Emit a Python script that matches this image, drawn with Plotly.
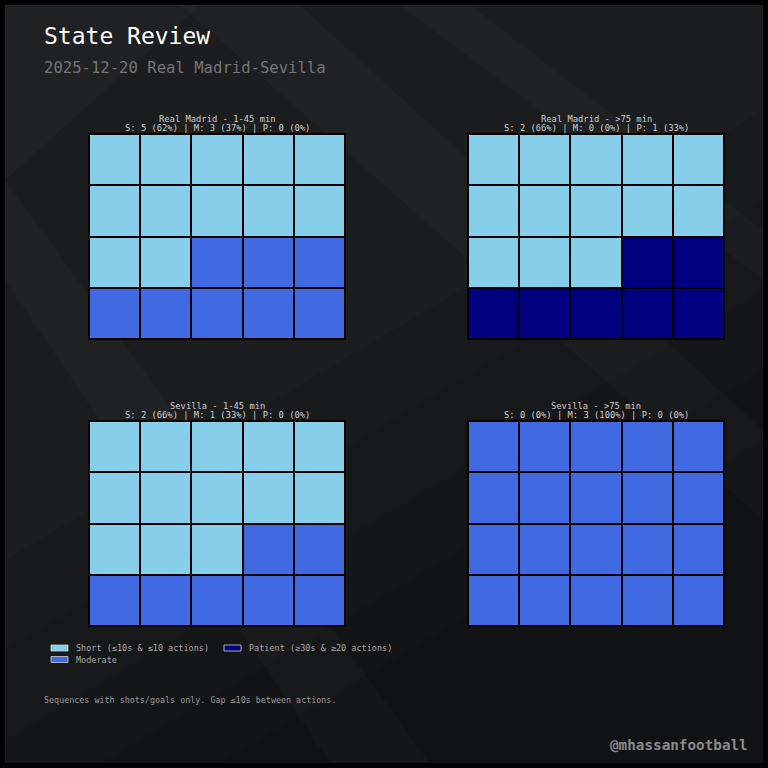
import plotly.graph_objects as go

# ---------------- data ----------------
panel_teams = ["Real Madrid", "Real Madrid", "Sevilla", "Sevilla"]
panel_periods = ["1-45 min", ">75 min", "1-45 min", ">75 min"]
short_counts = [5, 2, 2, 0]
moderate_counts = [3, 0, 1, 3]
patient_counts = [0, 1, 0, 0]
short_pct = [62, 66, 66, 0]
moderate_pct = [37, 0, 33, 100]
patient_pct = [0, 33, 0, 0]
# waffle cells (out of 20) per category
short_cells = [12, 13, 13, 0]
moderate_cells = [8, 0, 7, 20]
patient_cells = [0, 7, 0, 0]
categories = ["Short (≤10s & ≤10 actions)", "Moderate", "Patient (≥30s & ≥20 actions)"]
cat_colors = ["#87CEEB", "#4169E1", "#000080"]

N_COLS = 5
N_ROWS = 4
W = H = 768
MONO = "DejaVu Sans Mono"

def px_x(p):
    return p / W

def px_y(p):
    return 1 - p / H

# panel boxes in pixels (left, right, top, bottom)
boxes = [(89, 345, 134, 339), (468, 724, 134, 339),
         (89, 345, 421, 626), (468, 724, 421, 626)]

fig = go.Figure()
cs = [[0, cat_colors[0]], [0.25, cat_colors[0]], [0.25, cat_colors[1]],
      [0.75, cat_colors[1]], [0.75, cat_colors[2]], [1, cat_colors[2]]]

annotations = []
shapes = []

# background: darken towards the bottom / right
for y0 in [360, 450, 540, 620, 690]:
    path = (f"M {px_x(5)},{px_y(y0 + 200)} L {px_x(763)},{px_y(y0 - 250)} "
            f"L {px_x(763)},{px_y(763)} L {px_x(5)},{px_y(763)} Z")
    shapes.append(dict(type="path", xref="paper", yref="paper", path=path,
                       fillcolor="rgba(0,0,0,0.07)", line=dict(width=0), layer="below"))
# subtle diagonal light bands
bands = [
    [(5, 5), (200, 5), (5, 180)],
    [(180, 5), (300, 5), (763, 430), (763, 520)],
    [(400, 5), (470, 5), (763, 230), (763, 280)],
    [(5, 180), (5, 280), (330, 763), (430, 763)],
]
for b in bands:
    path = "M " + " L ".join(f"{px_x(x):.4f},{px_y(y):.4f}" for x, y in b) + " Z"
    shapes.append(dict(type="path", xref="paper", yref="paper", path=path,
                       fillcolor="rgba(255,255,255,0.02)", line=dict(width=0), layer="below"))
# outer black frame
shapes.append(dict(type="rect", xref="paper", yref="paper", x0=0, x1=1, y0=0, y1=1,
                   line=dict(color="#000000", width=10), fillcolor="rgba(0,0,0,0)", layer="above"))

for i in range(4):
    cells = [0] * short_cells[i] + [1] * moderate_cells[i] + [2] * patient_cells[i]
    z = [cells[r * N_COLS:(r + 1) * N_COLS] for r in range(N_ROWS)]
    ax = "" if i == 0 else str(i + 1)
    fig.add_trace(go.Heatmap(z=z, x=list(range(N_COLS)), y=list(range(N_ROWS)),
                             colorscale=cs, zmin=0, zmax=2, showscale=False,
                             xgap=2, ygap=2, hoverinfo="skip",
                             xaxis="x" + ax, yaxis="y" + ax))
    l, r, t, b = boxes[i]
    axis_common = dict(showgrid=False, zeroline=False, showticklabels=False, ticks="",
                       showline=True, mirror=True, linecolor="#000000", linewidth=1,
                       fixedrange=True)
    fig.layout["xaxis" + ax] = dict(domain=[px_x(l), px_x(r)], range=[-0.5, N_COLS - 0.5],
                                    anchor="y" + ax, **axis_common)
    fig.layout["yaxis" + ax] = dict(domain=[px_y(b), px_y(t)], range=[N_ROWS - 0.5, -0.5],
                                    anchor="x" + ax, **axis_common)
    cx = px_x((l + r) / 2)
    annotations.append(dict(text=f"{panel_teams[i]} - {panel_periods[i]}", x=cx, y=px_y(t - 15.5),
                            xref="paper", yref="paper", showarrow=False, xanchor="center",
                            yanchor="middle", font=dict(family=MONO, size=8.8, color="#d0d0d0")))
    sub = (f"S: {short_counts[i]} ({short_pct[i]}%) | M: {moderate_counts[i]} ({moderate_pct[i]}%)"
           f" | P: {patient_counts[i]} ({patient_pct[i]}%)")
    annotations.append(dict(text=sub, x=cx, y=px_y(t - 5.7), xref="paper", yref="paper",
                            showarrow=False, xanchor="center", yanchor="middle",
                            font=dict(family=MONO, size=8.8, color="#d0d0d0")))

# titles
annotations.append(dict(text="State Review", x=px_x(42), y=px_y(36), xref="paper", yref="paper",
                        showarrow=False, xanchor="left", yanchor="middle",
                        font=dict(family=MONO, size=23, color="#ffffff")))
annotations.append(dict(text="2025-12-20 Real Madrid-Sevilla", x=px_x(42), y=px_y(68),
                        xref="paper", yref="paper", showarrow=False, xanchor="left",
                        yanchor="middle", font=dict(family=MONO, size=15.6, color="#767676")))

# legend (column-major, 2 columns)
leg_pos = [(51, 648), (51, 659.5), (224, 648)]
for k in range(3):
    lx, ly = leg_pos[k]
    shapes.append(dict(type="rect", xref="paper", yref="paper", x0=px_x(lx), x1=px_x(lx + 17),
                       y0=px_y(ly + 3), y1=px_y(ly - 3), fillcolor=cat_colors[k],
                       line=dict(color="#cfcfcf", width=0.8)))
    annotations.append(dict(text=categories[k], x=px_x(lx + 23), y=px_y(ly), xref="paper",
                            yref="paper", showarrow=False, xanchor="left", yanchor="middle",
                            font=dict(family=MONO, size=8.5, color="#a8a8a8")))

annotations.append(dict(text="Sequences with shots/goals only. Gap ≤10s between actions.",
                        x=px_x(42), y=px_y(700), xref="paper", yref="paper", showarrow=False,
                        xanchor="left", yanchor="middle",
                        font=dict(family=MONO, size=8.4, color="#9a9a9a")))
annotations.append(dict(text="@mhassanfootball", x=px_x(750), y=px_y(745), xref="paper",
                        yref="paper", showarrow=False, xanchor="right", yanchor="middle",
                        font=dict(family=MONO, size=14.3, color="#8a8a8a", weight="bold")))

fig.update_layout(width=W, height=H, margin=dict(l=0, r=0, t=0, b=0),
                  paper_bgcolor="#1b1d1f", plot_bgcolor="#000000",
                  showlegend=False, annotations=annotations, shapes=shapes)
fig.write_html("out.html", config={"displayModeBar": False},
               post_script="document.body.style.margin='0';document.body.style.overflow='hidden';")
